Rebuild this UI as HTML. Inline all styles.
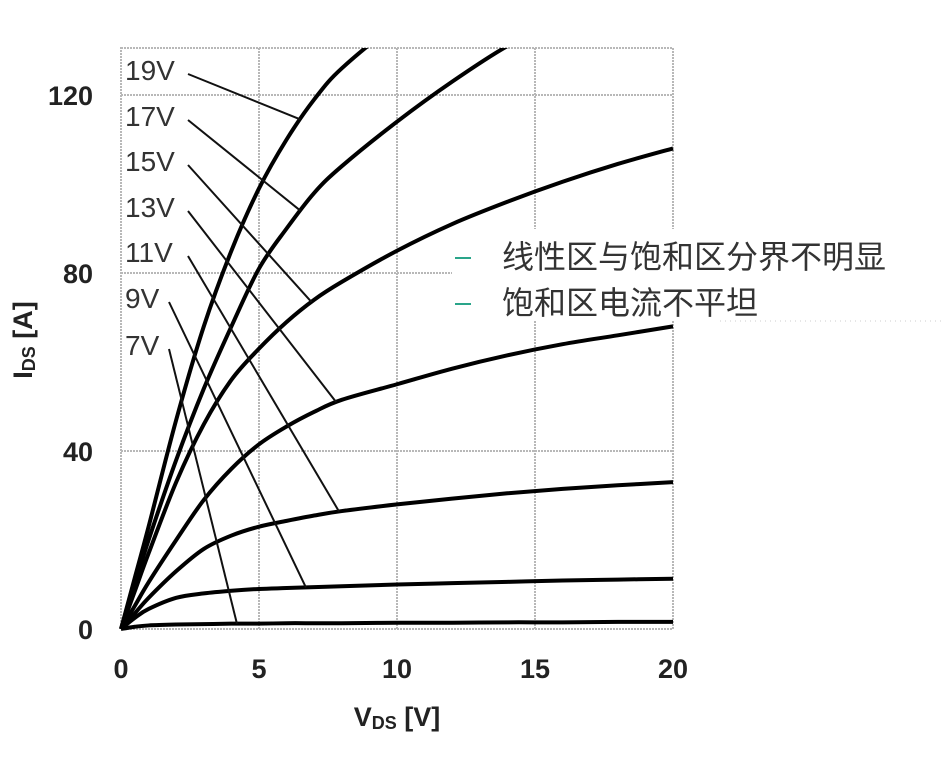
<!DOCTYPE html>
<html><head><meta charset="utf-8"><style>
html,body{margin:0;padding:0;background:#fff;width:942px;height:774px;overflow:hidden}
svg{display:block}
</style></head><body>
<svg id="chart" width="942" height="774" viewBox="0 0 942 774" xmlns="http://www.w3.org/2000/svg">
<g id="grid"></g>
<g id="curves"></g>
<g id="callouts"></g>
<g id="ticks"></g>
<text x="397" y="726" text-anchor="middle" font-family="Liberation Sans, Arial, sans-serif" font-weight="bold" font-size="27" fill="#222">V<tspan font-size="18" dy="3">DS</tspan><tspan dy="-3"> [V]</tspan></text>
<text transform="translate(32,340) rotate(-90)" text-anchor="middle" font-family="Liberation Sans, Arial, sans-serif" font-weight="bold" font-size="27" fill="#222">I<tspan font-size="18" dy="3">DS</tspan><tspan dy="-3"> [A]</tspan></text>
<g>
<rect x="452" y="229" width="490" height="92" fill="#fff"/>
<line x1="720" y1="321" x2="942" y2="321" stroke="#ccc" stroke-width="1" stroke-dasharray="1,4"/>
<line x1="455" y1="258" x2="471" y2="258" stroke="#2aa58a" stroke-width="2"/>
<line x1="455" y1="304" x2="471" y2="304" stroke="#2aa58a" stroke-width="2"/>
<text x="502" y="268" font-family="Liberation Sans, 'Noto Sans CJK SC', sans-serif" font-size="32" fill="#333">线性区与饱和区分界不明显</text>
<text x="502" y="314" font-family="Liberation Sans, 'Noto Sans CJK SC', sans-serif" font-size="32" fill="#333">饱和区电流不平坦</text>
</g>
</svg>
<script>
const vds = [0,0.5,1,2,3,4,5,6,7,8,10,12,14,16,18,20];
const gateLabels = ["7V","9V","11V","13V","15V","17V","19V"];
const i7  = [0,0.5,0.8,1.0,1.1,1.2,1.2,1.3,1.3,1.3,1.4,1.4,1.5,1.5,1.6,1.6];
const i9  = [0,2.5,4.5,7,8,8.6,9,9.2,9.4,9.6,10,10.3,10.6,10.9,11.1,11.3];
const i11 = [0,3.5,7,13,18,21,23,24.3,25.5,26.5,28,29.3,30.5,31.5,32.3,33];
const i13 = [0,5.2,10.5,20,29,36,41.5,45.5,48.8,51.5,55,58.5,61.5,64,66,68];
const i15 = [0,8.5,17,33,46,56,63,69,74,78,85,91,96,100.5,104.5,108];
const i17 = [0,10,20,38,54,68,81,90,98,104,114,123,131,137,142,146];
const i19 = [0,11.5,23,47,68,85,99,110,119,126,136,143,149,154,158,162];
const series = [i7,i9,i11,i13,i15,i17,i19];
const xTicks = [0,5,10,15,20];
const yTicks = [0,40,80,120];
const calloutAt = [4.2,6.7,7.9,7.8,6.9,6.5,6.5];
const labelY = [345,298,252,207,161,116,70];

const X0=121, X1=673, Y0=629, YTOP=48;
const xs = v => X0 + (v/20)*(X1-X0);
const ys = a => Y0 - a*(Y0-95)/120;
const NS="http://www.w3.org/2000/svg";
function mk(tag, attrs, parent){const e=document.createElementNS(NS,tag);for(const k in attrs)e.setAttribute(k,attrs[k]);parent.appendChild(e);return e;}
function interp(arr, v){for(let i=0;i<vds.length-1;i++){if(v<=vds[i+1]){const t=(v-vds[i])/(vds[i+1]-vds[i]);return arr[i]+t*(arr[i+1]-arr[i]);}}return arr[arr.length-1];}

const grid=document.getElementById('grid');
mk('rect',{x:X0,y:YTOP,width:X1-X0,height:Y0-YTOP,fill:'none',stroke:'#b8b8b8','stroke-width':2,'stroke-dasharray':'2,1'},grid);
xTicks.slice(1,-1).forEach(v=>{const l=mk('line',{x1:xs(v),y1:YTOP,x2:xs(v),y2:Y0,stroke:'#b8b8b8','stroke-width':2,'stroke-dasharray':'2,1'},grid);

});
yTicks.slice(1).forEach(a=>{const l=mk('line',{x1:X0,y1:ys(a),x2:X1,y2:ys(a),stroke:'#b8b8b8','stroke-width':2,'stroke-dasharray':'2,1'},grid);

});

const ticks=document.getElementById('ticks');
xTicks.forEach(v=>{const t=mk('text',{x:xs(v),y:678,'text-anchor':'middle','font-family':'Liberation Sans, Arial, sans-serif','font-weight':'bold','font-size':27,fill:'#222'},ticks);t.textContent=v;

});
yTicks.forEach(a=>{const t=mk('text',{x:93,y:ys(a)+10,'text-anchor':'end','font-family':'Liberation Sans, Arial, sans-serif','font-weight':'bold','font-size':27,fill:'#222'},ticks);t.textContent=a;

});

const defs=mk('defs',{},document.getElementById('chart'));
const cp=mk('clipPath',{id:'plotclip'},defs);
mk('rect',{x:X0-2,y:YTOP,width:X1-X0+4,height:Y0-YTOP+4},cp);

const curves=document.getElementById('curves');
curves.setAttribute('clip-path','url(#plotclip)');
series.forEach((arr,si)=>{
  const pts=vds.map((v,i)=>[xs(v),ys(arr[i])]);
  let d='M'+pts[0][0]+','+pts[0][1];
  for(let i=0;i<pts.length-1;i++){
    const p0=pts[Math.max(0,i-1)],p1=pts[i],p2=pts[i+1],p3=pts[Math.min(pts.length-1,i+2)];
    const c1=[p1[0]+(p2[0]-p0[0])/6,p1[1]+(p2[1]-p0[1])/6];
    const c2=[p2[0]-(p3[0]-p1[0])/6,p2[1]-(p3[1]-p1[1])/6];
    d+=' C'+c1[0]+','+c1[1]+' '+c2[0]+','+c2[1]+' '+p2[0]+','+p2[1];
  }
  const p=mk('path',{d:d,fill:'none',stroke:'#000','stroke-width':4,'stroke-linejoin':'round'},curves);
  
  
});

const callouts=document.getElementById('callouts');
gateLabels.forEach((lab,i)=>{
  const t=mk('text',{x:125,y:labelY[i]+10,'font-family':'Liberation Sans, Arial, sans-serif','font-size':28,fill:'#333'},callouts);
  t.textContent=lab;
  
  
  const sx = 125 + (lab.length===2?37:56) + 7;
  const v=calloutAt[i];
  const l=mk('line',{x1:sx,y1:labelY[i]+4,x2:xs(v),y2:ys(interp(series[i],v)),stroke:'#111','stroke-width':2},callouts);
  
  
});
</script>
</body></html>
